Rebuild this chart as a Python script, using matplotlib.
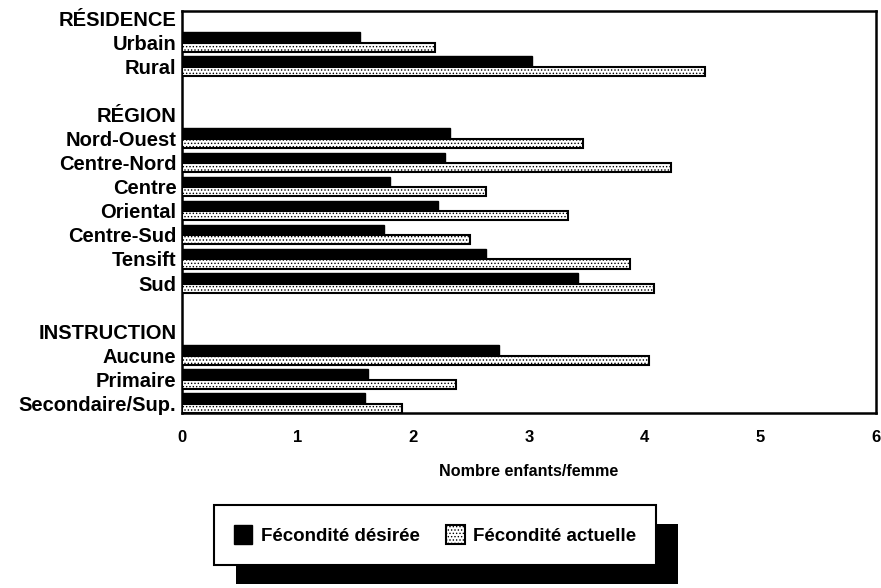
import numpy as np
import matplotlib
matplotlib.use('Agg')
import matplotlib.pyplot as plt
from matplotlib.patches import Rectangle

plt.rcParams['font.family'] = ['Liberation Sans', 'DejaVu Sans']
plt.rcParams['hatch.linewidth'] = 0.6

# rows from top to bottom; headers have no bars
labels = ['RÉSIDENCE', 'Urbain', 'Rural', '',
          'RÉGION', 'Nord-Ouest', 'Centre-Nord', 'Centre', 'Oriental',
          'Centre-Sud', 'Tensift', 'Sud', '',
          'INSTRUCTION', 'Aucune', 'Primaire', 'Secondaire/Sup.']
categories = ['Urbain', 'Rural',
              'Nord-Ouest', 'Centre-Nord', 'Centre', 'Oriental',
              'Centre-Sud', 'Tensift', 'Sud',
              'Aucune', 'Primaire', 'Secondaire/Sup.']
desiree = [1.54, 3.03, 2.32, 2.27, 1.80, 2.21, 1.75, 2.63, 3.42, 2.74, 1.61, 1.58]
actuelle = [2.19, 4.52, 3.47, 4.23, 2.63, 3.34, 2.49, 3.87, 4.08, 4.04, 2.37, 1.90]
xticks = [0, 1, 2, 3, 4, 5, 6]

fig = plt.figure(figsize=(8.81, 5.88), dpi=100)
ax = fig.add_axes([0.2066, 0.2976, 0.7877, 0.6837])

rows = np.array([labels.index(c) for c in categories])
h = 0.42
ax.barh(rows - h / 2, desiree, height=h, color='black', edgecolor='black',
        linewidth=1, label='Fécondité désirée', zorder=2)
ax.barh(rows + h / 2, actuelle, height=h * 0.9, color='white', edgecolor='black',
        hatch='.....', linewidth=1.5, label='Fécondité actuelle', zorder=3)

ax.set_ylim(16.4, -0.3)
ax.set_yticks(range(len(labels)))
ax.set_yticklabels(labels, fontsize=14.5, fontweight='bold')
ax.set_xlim(0, 6)
ax.set_xticks(xticks)
ax.set_xticklabels([str(t) for t in xticks], fontsize=12, fontweight='bold')
ax.tick_params(axis='y', length=0, pad=4)
ax.tick_params(axis='x', length=0, pad=12)
ax.set_xlabel('Nombre enfants/femme', fontsize=11.6, fontweight='bold', labelpad=14)
for s in ax.spines.values():
    s.set_linewidth(1.8)

leg = fig.legend(loc='center', bbox_to_anchor=(435 / 881, 1 - 535 / 588),
                 ncol=2, fontsize=13.5, frameon=True, fancybox=False,
                 edgecolor='black', framealpha=1, handlelength=1.0, handleheight=1.2,
                 handletextpad=0.45, columnspacing=1.4, borderpad=1.05,
                 borderaxespad=0)
leg.get_frame().set_linewidth(1.5)
for t in leg.get_texts():
    t.set_fontweight('bold')
leg.set_zorder(5)

# heavy drop shadow behind the legend box
fig.canvas.draw()
bb = leg.get_window_extent()
W, H = fig.bbox.width, fig.bbox.height
shadow = Rectangle(((bb.x0 + 22) / W, (bb.y0 - 19) / H), bb.width / W, bb.height / H,
                   transform=fig.transFigure, facecolor='black', edgecolor='none', zorder=1)
fig.patches.append(shadow)

fig.savefig('out.png', dpi=100)
